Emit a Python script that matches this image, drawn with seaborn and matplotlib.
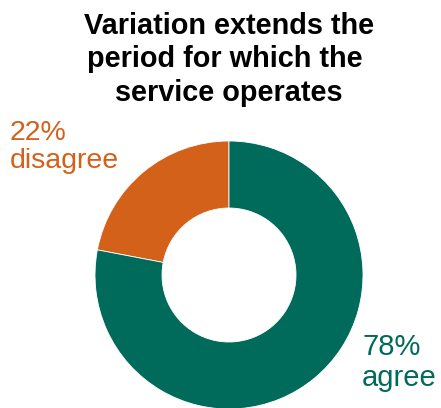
import matplotlib
matplotlib.use("Agg")
import matplotlib.pyplot as plt
import seaborn as sns

# data
categories = ['disagree', 'agree']
shares = [22, 78]
colors = ['#d4611a', '#006b5a']
title = 'Variation extends the\nperiod for which the \nservice operates'

sns.set_style('white')
plt.rcParams['font.family'] = ['Liberation Sans', 'DejaVu Sans']

fig = plt.figure(figsize=(4.41, 4.08), dpi=100)
# donut axes: centre ~ (229, 275) px, radius ~134 px
ax = fig.add_axes([95 / 441, (408 - 409) / 408, 268 / 441, 268 / 408])
ax.pie(shares, colors=colors, startangle=90, counterclock=True,
       wedgeprops=dict(width=0.5, edgecolor='white', linewidth=0.6))
ax.set_xlim(-1, 1)
ax.set_ylim(-1, 1)
ax.set_aspect('equal')
ax.axis('off')

fig.text(229 / 441, 1 - 12 / 408, title, ha='center', va='top',
         fontsize=20.8, fontweight='bold', linespacing=1.24, color='black')

fig.text(10 / 441, 1 - 120 / 408, f'{shares[0]}%\n{categories[0]}', ha='left', va='top',
         fontsize=20.5, color=colors[0], linespacing=1.1)
fig.text(362 / 441, 1 - 333 / 408, f'{shares[1]}%\n{categories[1]}', ha='left', va='top',
         fontsize=21, color=colors[1], linespacing=1.12)

fig.savefig('out.png', dpi=100)
